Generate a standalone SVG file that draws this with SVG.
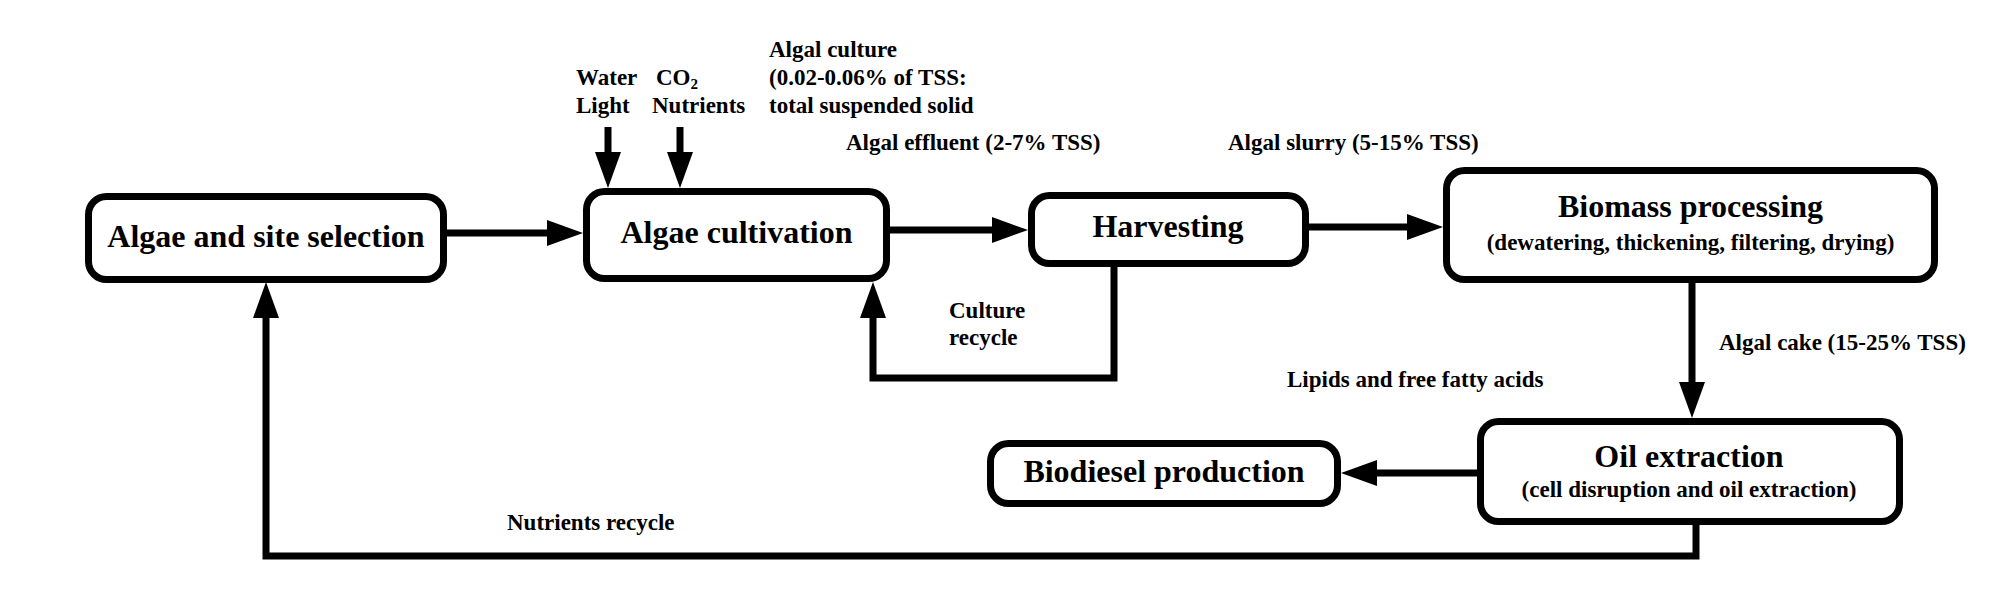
<svg xmlns="http://www.w3.org/2000/svg" width="2000" height="594" viewBox="0 0 2000 594">
<style>
.box{fill:#fff;stroke:#000;stroke-width:7}
.t{font-family:"Liberation Serif","Times New Roman",serif;font-weight:bold;fill:#000}
.title{font-size:32px;text-anchor:middle}
.sub{font-size:23px;text-anchor:middle}
.lab{font-size:23px}
.con{fill:none;stroke:#000;stroke-width:7;stroke-linejoin:miter}
</style>
<defs>
<marker id="ah" markerUnits="userSpaceOnUse" markerWidth="36" markerHeight="26" refX="0" refY="13" orient="auto" viewBox="0 0 36 26">
<path d="M0,0 L36,13 L0,26 z" fill="#000"/>
</marker>
</defs>
<rect width="2000" height="594" fill="#fff"/>
<g id="connectors">
<path class="con" d="M446,233 H547" marker-end="url(#ah)"/>
<path class="con" d="M608,127 V152" marker-end="url(#ah)"/>
<path class="con" d="M680,127 V152" marker-end="url(#ah)"/>
<path class="con" d="M890,230 H992" marker-end="url(#ah)"/>
<path class="con" d="M1309,227 H1407" marker-end="url(#ah)"/>
<path class="con" d="M1692,283 V382" marker-end="url(#ah)"/>
<path class="con" d="M1477,473 H1377" marker-end="url(#ah)"/>
<path class="con" d="M1114,267 V378 H873 V318" marker-end="url(#ah)"/>
<path class="con" d="M1696,525 V556 H266 V318" marker-end="url(#ah)"/>
</g>
<g id="node-site">
<rect class="box" x="88.5" y="196.5" width="355" height="83" rx="18"/>
<text class="t title" x="266" y="247">Algae and site selection</text>
</g>
<g id="node-cultivation">
<rect class="box" x="586.5" y="191.5" width="300" height="87" rx="18"/>
<text class="t title" x="736.5" y="243">Algae cultivation</text>
</g>
<g id="node-harvesting">
<rect class="box" x="1031.5" y="195.5" width="274" height="68" rx="18"/>
<text class="t title" x="1168" y="237">Harvesting</text>
</g>
<g id="node-biomass">
<rect class="box" x="1446.5" y="170.5" width="488" height="109" rx="18"/>
<text class="t title" x="1690.5" y="217">Biomass processing</text>
<text class="t sub" x="1690.5" y="250">(dewatering, thickening, filtering, drying)</text>
</g>
<g id="node-oil">
<rect class="box" x="1480.5" y="421.5" width="419" height="100" rx="18"/>
<text class="t title" x="1689" y="467">Oil extraction</text>
<text class="t sub" x="1689" y="497">(cell disruption and oil extraction)</text>
</g>
<g id="node-biodiesel">
<rect class="box" x="990.5" y="443.5" width="347" height="60" rx="18"/>
<text class="t title" x="1164" y="482">Biodiesel production</text>
</g>
<g id="labels">
<text class="t lab" x="576" y="85">Water</text>
<text class="t lab" x="576" y="113">Light</text>
<text class="t lab" x="656" y="85">CO<tspan font-size="15" dy="4">2</tspan></text>
<text class="t lab" x="652" y="113">Nutrients</text>
<text class="t lab" x="769" y="57">Algal culture</text>
<text class="t lab" x="769" y="85">(0.02-0.06% of TSS:</text>
<text class="t lab" x="769" y="113">total suspended solid</text>
<text class="t lab" x="846" y="150">Algal effluent (2-7% TSS)</text>
<text class="t lab" x="1228" y="150">Algal slurry (5-15% TSS)</text>
<text class="t lab" x="949" y="318">Culture</text>
<text class="t lab" x="949" y="345">recycle</text>
<text class="t lab" x="1287" y="387">Lipids and free fatty acids</text>
<text class="t lab" x="1719" y="350">Algal cake (15-25% TSS)</text>
<text class="t lab" x="507" y="530">Nutrients recycle</text>
</g>
</svg>
